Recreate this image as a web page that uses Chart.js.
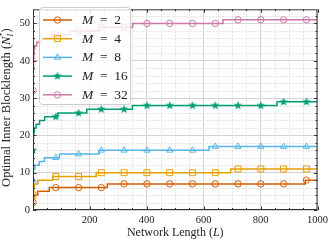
<!DOCTYPE html>
<html><head><meta charset="utf-8">
<script src="https://cdn.jsdelivr.net/npm/chart.js@4.4.1/dist/chart.umd.min.js"></script>
<style>html,body{margin:0;padding:0;background:#fff;}canvas{display:block;}</style>
</head><body>
<canvas id="c" width="332" height="243"></canvas>
<script>
// ---- data ----
const X_TICKS = [200, 400, 600, 800, 1000];
const Y_TICKS = [0, 10, 20, 30, 40, 50];
const SERIES_M = [2, 4, 8, 16, 32];
const MARK_L = [1, 81, 161, 241, 321, 401, 481, 561, 641, 721, 801, 881, 961];

const M2_L = [1, 2, 4, 18, 58, 262, 957, 1000];
const M2_N = [2, 3, 4, 5, 6, 7, 8, 8];
const M2_MARK = [2, 6, 6, 6, 7, 7, 7, 7, 7, 7, 7, 7, 8];

const M4_L = [1, 2, 3, 5, 18, 70, 223, 695, 1000];
const M4_N = [4, 5, 6, 7, 8, 9, 10, 11, 11];
const M4_MARK = [4, 9, 9, 10, 10, 10, 10, 10, 10, 11, 11, 11, 11];

const M8_L = [1, 2, 3, 8, 23, 41, 94, 233, 619, 1000];
const M8_N = [8, 10, 11, 12, 13, 14, 15, 16, 17, 17];
const M8_MARK = [8, 14, 15, 16, 16, 16, 16, 16, 17, 17, 17, 17, 17];

const M16_L = [1, 2, 3, 4, 6, 12, 24, 42, 88, 190, 350, 858, 1000];
const M16_N = [16, 19, 20, 21, 22, 23, 24, 25, 26, 27, 28, 29, 29];
const M16_MARK = [16, 25, 26, 27, 27, 28, 28, 28, 28, 28, 28, 29, 29];

const M32_L = [1, 2, 3, 4, 5, 7, 14, 30, 65, 130, 232, 351, 668, 1000];
const M32_N = [32, 37, 40, 42, 43, 44, 45, 46, 47, 48, 49, 50, 51, 51];
const M32_MARK = [32, 47, 48, 49, 49, 50, 50, 50, 50, 51, 51, 51, 51];

const COLORS = ['#D55E00', '#E69F00', '#56B4E9', '#009E73', '#CC79A7'];

// filled star marker
function makeStar(color) {
  const c = document.createElement('canvas');
  c.width = 10; c.height = 10;
  const g = c.getContext('2d');
  g.fillStyle = color;
  g.beginPath();
  for (let i = 0; i < 10; i++) {
    const r = i % 2 === 0 ? 4.6 : 1.9;
    const a = -Math.PI / 2 + i * Math.PI / 5;
    const px = 5 + r * Math.cos(a), py = 5 + r * Math.sin(a);
    if (i === 0) g.moveTo(px, py); else g.lineTo(px, py);
  }
  g.closePath(); g.fill();
  return c;
}
const STAR = makeStar(COLORS[3]);
const STYLES = [
  {ps: 'circle', r: 3.2},
  {ps: 'rect', r: 4.2},
  {ps: 'triangle', r: 3.6},
  {ps: STAR, r: 4},
  {ps: 'circle', r: 3.2}
];

const stepL = [M2_L, M4_L, M8_L, M16_L, M32_L];
const stepN = [M2_N, M4_N, M8_N, M16_N, M32_N];
const markN = [M2_MARK, M4_MARK, M8_MARK, M16_MARK, M32_MARK];

const datasets = [];
SERIES_M.forEach((m, i) => {
  datasets.push({
    label: 'M = ' + m,
    data: stepL[i].map((l, k) => ({x: l, y: stepN[i][k]})),
    borderColor: COLORS[i], borderWidth: 1.5,
    stepped: 'before', pointRadius: 0, fill: false,
    order: 10 - 2 * i
  });
  datasets.push({
    label: '_m' + m,
    data: MARK_L.map((l, k) => ({x: l, y: markN[i][k]})),
    showLine: false,
    pointStyle: STYLES[i].ps, pointRadius: STYLES[i].r,
    pointBorderColor: COLORS[i], pointBackgroundColor: i === 3 ? COLORS[i] : 'rgba(0,0,0,0)',
    pointBorderWidth: 1,
    order: 9 - 2 * i
  });
});

const SERIF = '"Liberation Serif", "DejaVu Serif", serif';
const TXT = '#222';

function drawRich(ctx, parts, x, y, align) {
  let w = 0;
  parts.forEach(p => { ctx.font = p.font; p.w = p.stack ? 0 : ctx.measureText(p.t).width; if (p.adv) p.w = p.adv; w += p.w; });
  let cx = align === 'center' ? x - w / 2 : x;
  parts.forEach(p => {
    ctx.font = p.font;
    ctx.fillText(p.t, cx, y + (p.dy || 0));
    cx += p.w;
  });
}

const overlay = {
  id: 'overlay',
  beforeDatasetsDraw(chart) {
    const {ctx, chartArea: a, scales: {x, y}} = chart;
    ctx.save();
    ctx.strokeStyle = '#dedede'; ctx.lineWidth = 0.8; ctx.setLineDash([2, 1.2]);
    for (let v = 50; v < 1000; v += 50) {
      if (v % 200 === 0) continue;
      const px = Math.round(x.getPixelForValue(v)) + 0.5;
      ctx.beginPath(); ctx.moveTo(px, a.top); ctx.lineTo(px, a.bottom); ctx.stroke();
    }
    for (let v = 2; v < 54; v += 2) {
      if (v % 10 === 0) continue;
      const py = Math.round(y.getPixelForValue(v)) + 0.5;
      ctx.beginPath(); ctx.moveTo(a.left, py); ctx.lineTo(a.right, py); ctx.stroke();
    }
    ctx.restore();
  },
  afterDatasetsDraw(chart) {
    const {ctx, chartArea: a, scales: {x, y}} = chart;
    ctx.save();
    // spines
    ctx.strokeStyle = '#333'; ctx.lineWidth = 1; ctx.setLineDash([]);
    ctx.strokeRect(a.left + 0.5, a.top + 0.5, a.right - a.left - 1, a.bottom - a.top - 1);
    // inward ticks
    ctx.beginPath();
    for (let v = 50; v <= 1000; v += 50) {
      const px = Math.round(x.getPixelForValue(v)) + 0.5;
      const len = v % 200 === 0 ? 3.5 : 2;
      ctx.moveTo(px, a.bottom); ctx.lineTo(px, a.bottom - len);
      ctx.moveTo(px, a.top); ctx.lineTo(px, a.top + len);
    }
    for (let v = 0; v < 54; v += 2) {
      const py = Math.round(y.getPixelForValue(v)) + 0.5;
      const len = v % 10 === 0 ? 3.5 : 2;
      ctx.moveTo(a.left, py); ctx.lineTo(a.left + len, py);
      ctx.moveTo(a.right, py); ctx.lineTo(a.right - len, py);
    }
    ctx.stroke();

    // legend
    const bx = 39.5, by = 7.5, bw = 91, bh = 97;
    ctx.beginPath();
    ctx.roundRect(bx, by, bw, bh, 3);
    ctx.fillStyle = 'rgba(255,255,255,0.8)'; ctx.fill();
    ctx.strokeStyle = '#cccccc'; ctx.lineWidth = 1; ctx.stroke();
    SERIES_M.forEach((m, i) => {
      const ry = 20 + i * 18.7;
      ctx.strokeStyle = COLORS[i]; ctx.lineWidth = 1.5;
      ctx.beginPath(); ctx.moveTo(43, ry); ctx.lineTo(72, ry); ctx.stroke();
      ctx.fillStyle = i === 3 ? COLORS[i] : 'rgba(0,0,0,0)';
      ctx.lineWidth = 1;
      Chart.helpers.drawPoint(ctx, {pointStyle: STYLES[i].ps, radius: STYLES[i].r, borderWidth: 1, rotation: 0}, 57.5, ry);
      ctx.fillStyle = TXT; ctx.textBaseline = 'middle'; ctx.textAlign = 'left';
      drawRich(ctx, [
        {t: 'M', font: 'italic 13.5px ' + SERIF},
        {t: '  =  ' + m, font: '13.5px ' + SERIF}
      ], 82, ry + 0.5, 'left');
    });

    // axis titles
    ctx.fillStyle = TXT; ctx.textAlign = 'left'; ctx.textBaseline = 'alphabetic';
    drawRich(ctx, [
      {t: 'Network Length (', font: '12px ' + SERIF},
      {t: 'L', font: 'italic 12px ' + SERIF},
      {t: ')', font: '12px ' + SERIF}
    ], (a.left + a.right) / 2, 236, 'center');

    ctx.translate(10, (a.top + a.bottom) / 2 - 2);
    ctx.rotate(-Math.PI / 2);
    drawRich(ctx, [
      {t: 'Optimal Inner Blocklength (', font: '12.5px ' + SERIF},
      {t: 'N', font: 'italic 12.5px ' + SERIF},
      {t: '*', font: '8px ' + SERIF, dy: -5, stack: true},
      {t: 'I', font: 'italic 8px ' + SERIF, dy: 2.5, adv: 4},
      {t: ')', font: '12.5px ' + SERIF}
    ], 0, 0, 'center');
    ctx.restore();
  }
};

new Chart(document.getElementById('c'), {
  type: 'line',
  data: {datasets},
  options: {
    responsive: false, animation: false, devicePixelRatio: 1,
    layout: {padding: {left: 0, right: 14, top: 2, bottom: 0}},
    plugins: {legend: {display: false}, tooltip: {enabled: false}},
    scales: {
      x: {
        type: 'linear', min: 1, max: 1000,
        afterFit: s => { s.height = 33; },
        afterBuildTicks: s => { s.ticks = X_TICKS.map(v => ({value: v})); },
        grid: {color: '#d4d4d4', lineWidth: 1, drawTicks: false},
        border: {display: false},
        ticks: {font: {family: SERIF, size: 10.5}, color: TXT, padding: 4, maxRotation: 0, callback: v => String(v)}
      },
      y: {
        type: 'linear', min: 0, max: 53.8,
        afterFit: s => { s.width = 33; },
        afterBuildTicks: s => { s.ticks = Y_TICKS.map(v => ({value: v})); },
        grid: {color: '#d4d4d4', lineWidth: 1, drawTicks: false},
        border: {display: false},
        ticks: {font: {family: SERIF, size: 10.5}, color: TXT, padding: 3, callback: v => String(v)}
      }
    }
  },
  plugins: [overlay]
});
</script>
</body></html>
